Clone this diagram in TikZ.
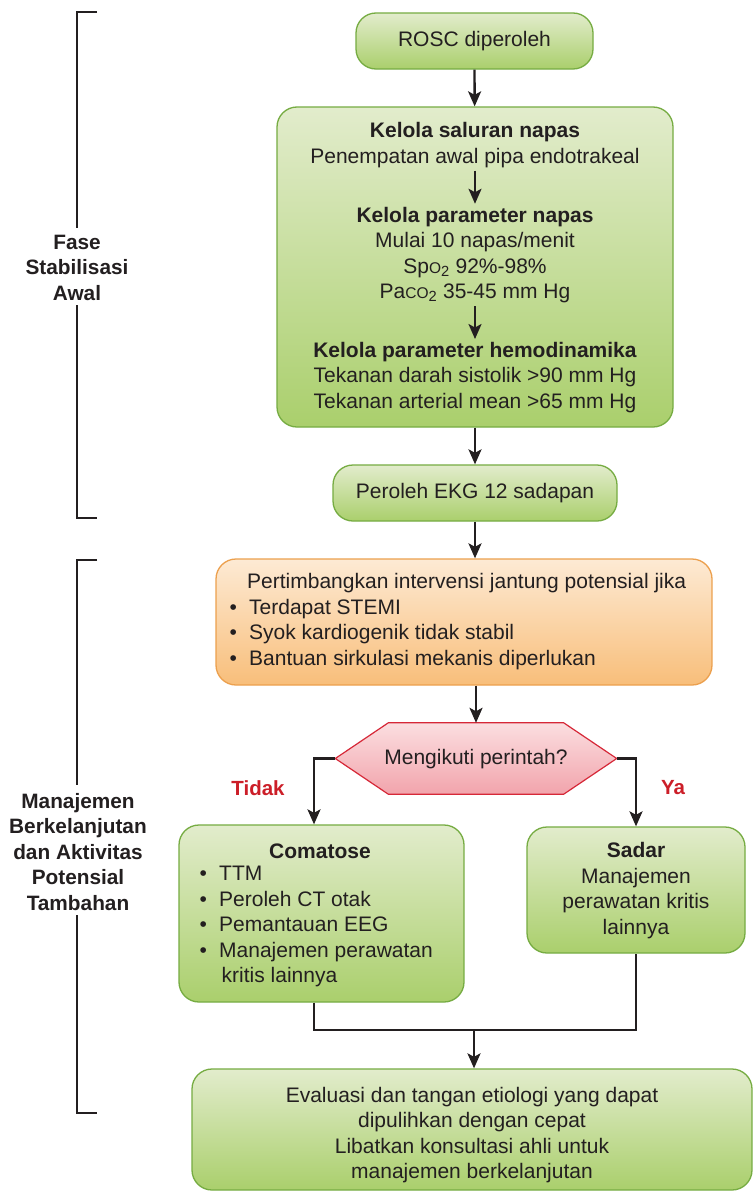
\documentclass[tikz,border=0pt]{standalone}
\usepackage{fontspec}
\setmainfont{Liberation Sans}
\usetikzlibrary{arrows.meta}
\definecolor{ink}{RGB}{35,31,32}
\definecolor{gtop}{RGB}{226,236,204}
\definecolor{gbot}{RGB}{170,207,108}
\definecolor{gline}{RGB}{118,172,66}
\definecolor{otop}{RGB}{253,234,212}
\definecolor{obot}{RGB}{248,190,122}
\definecolor{oline}{RGB}{236,160,78}
\definecolor{dtop}{RGB}{251,222,224}
\definecolor{dbot}{RGB}{242,164,172}
\definecolor{dline}{RGB}{214,40,56}
\definecolor{lbl}{RGB}{204,30,40}
\newcommand{\mybul}{\makebox[19.5pt][l]{\textbullet}}
\newcommand{\smc}[1]{{\fontsize{15.5}{15}\selectfont #1}}
\begin{document}
\begin{tikzpicture}[x=1pt,y=1pt,
  txt/.style={inner sep=0pt, align=center, text=ink, font=\fontsize{21}{25.5}\selectfont},
  side/.style={inner sep=0pt, align=center, text=ink, font=\fontsize{20.8}{25.5}\selectfont\bfseries},
  gbox/.style={draw=gline, line width=1.3pt, rounded corners=20pt, top color=gtop, bottom color=gbot, inner sep=0pt},
  obox/.style={draw=oline, line width=1.3pt, rounded corners=20pt, top color=otop, bottom color=obot, inner sep=0pt},
  arr/.style={draw=ink, line width=2.3pt, -{Stealth[length=15pt,width=13pt,inset=3.5pt]}},
  bline/.style={draw=ink, line width=2.2pt},
  yn/.style={inner sep=0pt, text=lbl, font=\fontsize{20.5}{24}\selectfont\bfseries}
]
\useasboundingbox (0,0) rectangle (754,-1191);
\fill[white] (0,0) rectangle (754,-1191);

% brackets and side labels
\node[side] (lab1) at (77,-267.5) {Fase\\Stabilisasi\\Awal};
\draw[bline] (97,-12) -- (77,-12) -- (77,-228);
\draw[bline] (77,-305) -- (77,-518) -- (97,-518);
\node[side] (lab2) at (78,-852) {Manajemen\\Berkelanjutan\\dan Aktivitas\\Potensial\\Tambahan};
\draw[bline] (97,-560) -- (77,-560) -- (77,-785);
\draw[bline] (77,-915) -- (77,-1113) -- (97,-1113);

% top
\node[gbox, minimum width=237, minimum height=56] (rosc) at (474.5,-41) {};
\node[txt] (roscT) at (474.5,-41) {ROSC diperoleh};

\node[gbox, minimum width=396, minimum height=320] (big) at (475,-267) {};
\node[txt] (air) at (475,-145) {\textbf{Kelola saluran napas}\\Penempatan awal pipa endotrakeal};
\node[txt] (par) at (475,-255) {\textbf{Kelola parameter napas}\\Mulai 10 napas/menit\\Sp\smc{O}\textsubscript{2} 92\%-98\%\\Pa\smc{CO}\textsubscript{2} 35-45 mm Hg};
\node[txt] (hemo) at (475,-377.5) {\textbf{Kelola parameter hemodinamika}\\Tekanan darah sistolik >90 mm Hg\\Tekanan arterial mean >65 mm Hg};
\draw[arr, shorten <=3pt, shorten >=3pt] (air) -- (par);
\draw[arr, shorten <=3pt, shorten >=3pt] (par) -- (hemo);

\node[gbox, minimum width=284, minimum height=56] (ekg) at (475,-493) {};
\node[txt] (ekgT) at (475,-493) {Peroleh EKG 12 sadapan};

\node[obox, minimum width=496, minimum height=126] (pot) at (464,-622) {};
\node[txt, align=left, anchor=west] (potT) at (229.5,-621.5) {\hspace*{17.5pt}Pertimbangkan intervensi jantung potensial jika\\\mybul Terdapat STEMI\\\mybul Syok kardiogenik tidak stabil\\\mybul Bantuan sirkulasi mekanis diperlukan};

% decision
\node[inner sep=0pt, minimum width=281, minimum height=71] (dec) at (476,-758.5) {};
\path[draw=dline, line width=1.2pt, top color=dtop, bottom color=dbot]
  (dec.west) -- ([xshift=53pt]dec.north west) -- ([xshift=-53pt]dec.north east) -- (dec.east)
  -- ([xshift=-53pt]dec.south east) -- ([xshift=53pt]dec.south west) -- cycle;
\node[txt] (decT) at (476,-759) {Mengikuti perintah?};
\node[yn] (tidak) at (258,-788) {Tidak};
\node[yn] (ya) at (673,-788) {Ya};

% branches
\node[gbox, minimum width=285, minimum height=177] (com) at (321.5,-913.5) {};
\node[txt] (comT) at (320,-851) {\textbf{Comatose}};
\node[txt, align=left, anchor=west] (comL) at (199.5,-926.5) {\mybul TTM\\\mybul Peroleh CT otak\\\mybul Pemantauan EEG\\\mybul Manajemen perawatan\\\hspace*{22pt}kritis lainnya};

\node[gbox, minimum width=218, minimum height=126] (sad) at (636,-890) {};
\node[txt] (sadT) at (636,-890.5) {\textbf{Sadar}\\Manajemen\\perawatan kritis\\lainnya};

\node[gbox, minimum width=560, minimum height=121] (fin) at (472,-1129.5) {};
\node[txt] (finT) at (472,-1135) {Evaluasi dan tangan etiologi yang dapat\\dipulihkan dengan cepat\\Libatkan konsultasi ahli untuk\\manajemen berkelanjutan};

% connectors
\draw[arr] (rosc) -- (big);
\draw[arr] (big) -- (ekg);
\draw[arr] (ekg.south) -- (ekg.south |- pot.north);
\draw[arr] (dec.north |- pot.south) -- (dec.north);
\draw[arr] (dec.west) -| ([xshift=-7.5pt]com.north);
\draw[arr] (dec.east) -| (sad.north);
\coordinate (j) at (474,-1030);
\draw[bline] ([xshift=-7.5pt]com.south) |- (sad.south |- j) -- (sad.south);
\draw[arr] (j) -- (j |- fin.north);
\end{tikzpicture}
\end{document}
